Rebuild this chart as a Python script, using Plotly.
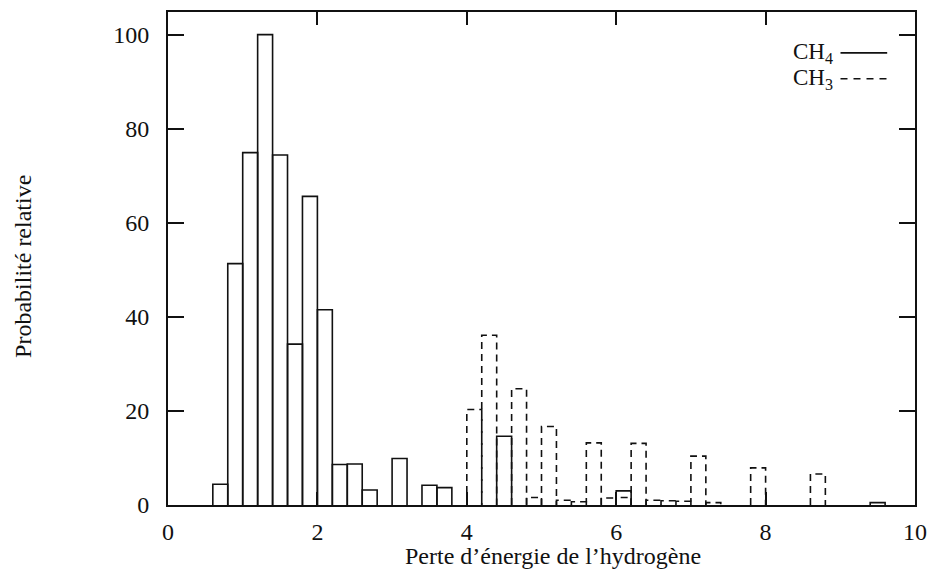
import plotly.graph_objects as go

# Histogram bins (left edge, width 0.2) and relative probabilities
BIN_WIDTH = 0.2

ch4_left = [0.6, 0.8, 1.0, 1.2, 1.4, 1.6, 1.8, 2.0, 2.2, 2.4, 2.6, 3.0, 3.4, 3.6, 4.4, 6.0, 9.4]
ch4_vals = [4.4, 51.3, 74.9, 100.0, 74.4, 34.2, 65.6, 41.5, 8.6, 8.7, 3.2, 9.9, 4.2, 3.7, 14.6, 3.0, 0.5]

ch3_left = [4.0, 4.2, 4.6, 4.8, 5.0, 5.2, 5.4, 5.6, 5.8, 6.0, 6.2, 6.4, 6.6, 6.8, 7.0, 7.2, 7.8, 8.6]
ch3_vals = [20.3, 36.1, 24.7, 1.6, 16.7, 1.0, 0.7, 13.2, 1.5, 1.6, 13.1, 1.0, 0.9, 0.8, 10.4, 0.5, 7.9, 6.6]

x_ticks = [0, 2, 4, 6, 8, 10]
y_ticks = [0, 20, 40, 60, 80, 100]

FONT = "Liberation Serif"
FS = 24


def box_outline(lefts, vals, width):
    """Open box outline for each histogram bin (left, top, right sides)."""
    xs, ys = [], []
    for l, v in zip(lefts, vals):
        r = l + width
        xs += [l, l, r, r, None]
        ys += [0, v, v, 0, None]
    return xs, ys


fig = go.Figure()

x4, y4 = box_outline(ch4_left, ch4_vals, BIN_WIDTH)
fig.add_trace(go.Scatter(x=x4, y=y4, mode="lines", name="CH4",
                         line=dict(color="#111", width=1.6), hoverinfo="skip"))

x3, y3 = box_outline(ch3_left, ch3_vals, BIN_WIDTH)
fig.add_trace(go.Scatter(x=x3, y=y3, mode="lines", name="CH3",
                         line=dict(color="#111", width=1.6, dash="7px,5px"),
                         hoverinfo="skip"))

# Plot area geometry (pixels) used to place the hand-drawn legend
L, R, T, B = 168, 920, 10, 505
W, H = R - L, B - T


def px(xp):
    return (xp - L) / W


def py(yp):
    return (B - yp) / H


legend_rows = [("CH<sub>4</sub>", 51, "solid"), ("CH<sub>3</sub>", 77, "7px,6px")]
for label, yrow, dash in legend_rows:
    fig.add_annotation(x=px(839), y=py(yrow), xref="paper", yref="paper",
                       text=label, showarrow=False, xanchor="right", yanchor="middle",
                       font=dict(family=FONT, size=FS - 1, color="#111"))
    fig.add_shape(type="line", xref="paper", yref="paper",
                  x0=px(845), x1=px(892), y0=py(yrow), y1=py(yrow),
                  line=dict(color="#111", width=1.6, dash=dash))

# Axis titles
fig.add_annotation(x=px(556), y=py(556), xref="paper", yref="paper",
                   text="Perte d’énergie de l’hydrogène", showarrow=False,
                   xanchor="center", yanchor="middle",
                   font=dict(family=FONT, size=FS, color="#111"))
fig.add_annotation(x=px(22), y=py(265), xref="paper", yref="paper",
                   text="Probabilité relative", showarrow=False, textangle=-90,
                   xanchor="center", yanchor="middle",
                   font=dict(family=FONT, size=FS, color="#111"))

axis_common = dict(
    showgrid=False, zeroline=False, showline=True, linecolor="#111", linewidth=2,
    mirror="ticks", ticks="inside", tickcolor="#111", tickwidth=2,
    tickfont=dict(family=FONT, size=FS, color="#111"),
)

fig.update_xaxes(range=[0, 10], tickvals=x_ticks, ticklen=13,
                 ticklabelstandoff=4, **axis_common)
fig.update_yaxes(range=[0, 104.8], tickvals=y_ticks, ticklen=16,
                 ticklabelstandoff=12, **axis_common)

fig.update_layout(
    width=937, height=574,
    margin=dict(l=L, r=937 - R, t=T, b=574 - B),
    paper_bgcolor="white", plot_bgcolor="white",
    showlegend=False,
    font=dict(family=FONT, size=FS, color="#111"),
)

fig.write_html("out.html")
